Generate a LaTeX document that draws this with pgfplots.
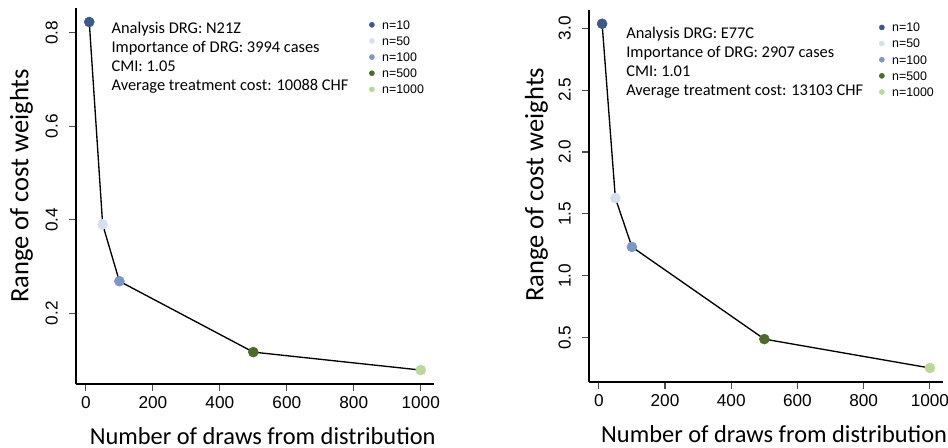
\documentclass[border=0pt]{standalone}
\usepackage{pgfplots}
\pgfplotsset{compat=1.18}
\usepackage{fontspec}
\setmainfont{Carlito}
\newfontfamily\arial{Liberation Sans}
\definecolor{cA}{HTML}{3B5A8A}
\definecolor{cB}{HTML}{D5DFEE}
\definecolor{cC}{HTML}{7B97C7}
\definecolor{cD}{HTML}{4B6B2B}
\definecolor{cE}{HTML}{B9D899}
\tikzset{ann/.style={anchor=base west, inner sep=0pt, font=\fontsize{12.3}{14}\selectfont}}
\pgfplotsset{
  panel/.style={
    scale only axis,
    anchor=south west,
    clip=false,
    axis x line=bottom, axis y line=left,
    axis line style={-, line width=1.3pt, black},
    xmin=-29.6, xmax=1039.6,
    xtick={0,200,400,600,800,1000},
    tick align=outside,
    major tick length=5.25pt,
    tick style={line width=0.8pt, black!70},
    /pgf/number format/assume math mode=true,
    /pgf/number format/1000 sep={},
    tick label style={font=\arial\fontsize{12.9}{14}\selectfont},
    xticklabel style={anchor=base, yshift=-13.5pt},
    yticklabel style={rotate=90, anchor=base, yshift=8.5pt},
    xlabel style={font=\fontsize{18.3}{20}\selectfont},
    ylabel style={font=\fontsize{19.9}{22}\selectfont},
    xlabel={Number of draws from distribution},
    ylabel={Range of cost weights},
    legend cell align=left,
    legend image code/.code={\fill[##1] (0pt,0pt) circle (1.9pt);},
    legend style={draw=none, fill=none, anchor=north west,
      font=\arial\fontsize{9.3}{10}\selectfont, inner sep=0pt,
      row sep=3.6pt, column sep=4.6pt,
      nodes={inner sep=1pt, text height=6.5pt, text depth=0pt}},
  },
  dot/.style={only marks, mark=*, mark size=3.75pt},
}
\begin{document}
\begin{tikzpicture}
\useasboundingbox (0,0) rectangle (711pt,336pt);
% Left panel
\begin{axis}[panel,
  at={(57pt,48pt)}, width=268.5pt, height=282pt,
  ymin=0.0488, ymax=0.853,
  ytick={0.2,0.4,0.6,0.8},
  yticklabel style={/pgf/number format/fixed, /pgf/number format/precision=1},
  xlabel style={at={(axis description cs:0.5215,0)}, anchor=base, yshift=-45.75pt},
  ylabel style={at={(axis description cs:0,0.527)}, anchor=base, yshift=35.8pt},
  legend style={at={(axis description cs:0.818,0.971)}},
]
\addplot[black, line width=1pt, forget plot] coordinates {(10,0.823) (50,0.390) (100,0.2686) (500,0.117) (1000,0.0786)};
\addplot[dot, color=cA] coordinates {(10,0.823)};
\addplot[dot, color=cB] coordinates {(50,0.390)};
\addplot[dot, color=cC] coordinates {(100,0.2686)};
\addplot[dot, color=cD] coordinates {(500,0.117)};
\addplot[dot, color=cE] coordinates {(1000,0.0786)};
\legend{n=10,n=50,n=100,n=500,n=1000}
\node[ann] at (axis description cs:0.0986,0.932) {Analysis DRG: N21Z};
\node[ann, yshift=-14.25pt] at (axis description cs:0.0986,0.932) {Importance of DRG: 3994 cases};
\node[ann, yshift=-28.5pt] at (axis description cs:0.0986,0.932) {CMI: 1.05};
\node[ann, yshift=-42.75pt] at (axis description cs:0.0986,0.932) {Average treatment cost: 10088 CHF};
\end{axis}
% Right panel
\begin{axis}[panel,
  at={(441.75pt,49.7pt)}, width=265.5pt, height=278.8pt,
  ymin=0.146, ymax=3.146,
  ytick={0.5,1.0,1.5,2.0,2.5,3.0},
  yticklabel style={/pgf/number format/fixed, /pgf/number format/fixed zerofill, /pgf/number format/precision=1},
  xlabel style={at={(axis description cs:0.523,0)}, anchor=base, yshift=-45.75pt},
  ylabel style={at={(axis description cs:0,0.530)}, anchor=base, yshift=34.3pt},
  legend style={at={(axis description cs:0.8186,0.969)}},
]
\addplot[black, line width=1pt, forget plot] coordinates {(10,3.035) (50,1.628) (100,1.234) (500,0.490) (1000,0.257)};
\addplot[dot, color=cA] coordinates {(10,3.035)};
\addplot[dot, color=cB] coordinates {(50,1.628)};
\addplot[dot, color=cC] coordinates {(100,1.234)};
\addplot[dot, color=cD] coordinates {(500,0.490)};
\addplot[dot, color=cE] coordinates {(1000,0.257)};
\legend{n=10,n=50,n=100,n=500,n=1000}
\node[ann] at (axis description cs:0.1045,0.924) {Analysis DRG: E77C};
\node[ann, yshift=-14.25pt] at (axis description cs:0.1045,0.924) {Importance of DRG: 2907 cases};
\node[ann, yshift=-28.5pt] at (axis description cs:0.1045,0.924) {CMI: 1.01};
\node[ann, yshift=-42.75pt] at (axis description cs:0.1045,0.924) {Average treatment cost: 13103 CHF};
\end{axis}
\end{tikzpicture}
\end{document}
